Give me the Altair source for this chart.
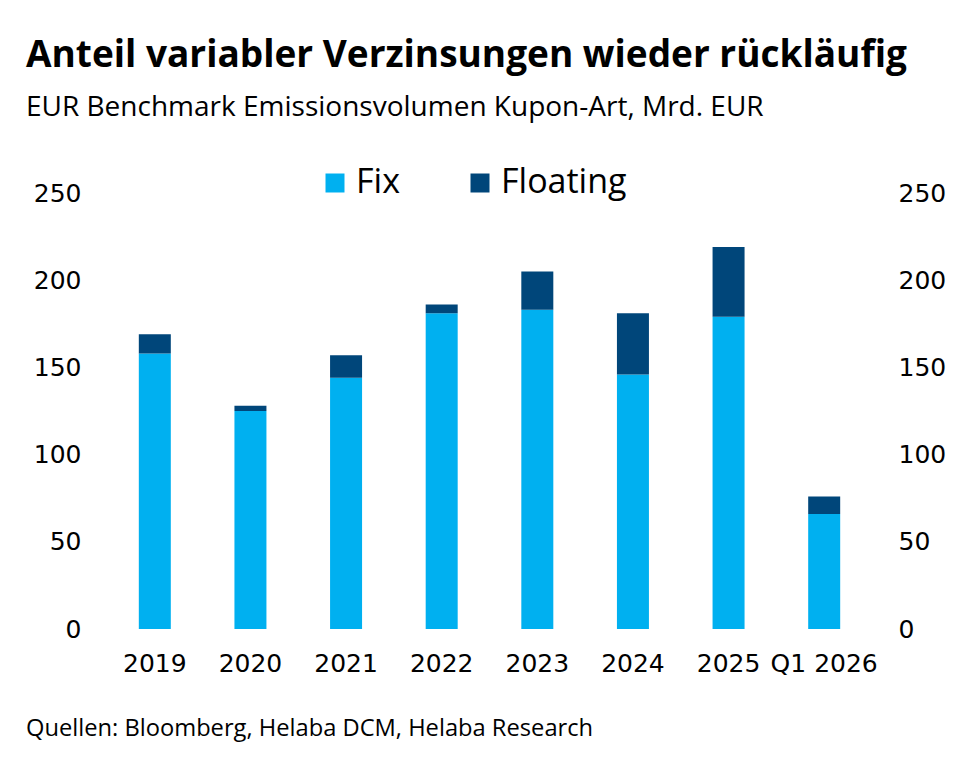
import altair as alt
import pandas as pd

years = ["2019", "2020", "2021", "2022", "2023", "2024", "2025", "Q1 2026"]
fix = [158, 125, 144, 181, 183, 146, 179, 66]
floating = [11, 3, 13, 5, 22, 35, 40, 10]
types = ["Fix", "Floating"]
colors = ["#00b0f0", "#00467a"]
y_ticks = [0, 50, 100, 150, 200, 250]

rows = []
for y, a, b in zip(years, fix, floating):
    rows.append({"year": y, "type": "Fix", "value": a, "ord": 0})
    rows.append({"year": y, "type": "Floating", "value": b, "ord": 1})
df = pd.DataFrame(rows)

TXT = "Open Sans"
AX = "DejaVu Sans"

def x_enc():
    return alt.X("year:N", sort=years, title=None,
                 axis=alt.Axis(labelAngle=0, ticks=False, tickSize=0, domain=False,
                               labelPadding=22, labelFont=AX, labelFontSize=25,
                               labelColor="black", grid=False))

def y_enc(orient):
    return alt.Y("value:Q", stack="zero", title=None,
                 scale=alt.Scale(domain=[0, 250], nice=False),
                 axis=alt.Axis(orient=orient, values=y_ticks, grid=False, ticks=False,
                               tickSize=0, domain=False, labelPadding=26, labelFont=AX,
                               labelFontSize=25, labelColor="black"))

bars = alt.Chart(df).mark_bar(size=32).encode(
    x=x_enc(),
    y=y_enc("left"),
    color=alt.Color("type:N", scale=alt.Scale(domain=types, range=colors),
                    legend=alt.Legend(orient="none", legendX=211, legendY=-27,
                                      direction="horizontal", title=None,
                                      symbolType="square", symbolSize=361,
                                      symbolStrokeWidth=0, labelFont=TXT,
                                      labelFontSize=34, labelColor="black",
                                      labelOffset=4, columnPadding=63, padding=0)),
    order=alt.Order("ord:Q"),
)

right = alt.Chart(df).mark_bar(size=32, opacity=0).encode(
    x=x_enc(),
    y=y_enc("right"),
)

footer = alt.Chart(alt.Data(values=[{"t": "Quellen: Bloomberg, Helaba DCM, Helaba Research"}])).mark_text(
    align="left", baseline="alphabetic", font=TXT, fontSize=23.7, color="black"
).encode(x=alt.value(-81), y=alt.value(543), text="t:N")

chart = alt.layer(bars, right, footer).resolve_scale(y="independent").properties(
    width=765,
    height=436,
    background="white",
    autosize=alt.AutoSizeParams(type="none"),
    padding={"left": 99, "top": 185, "right": 97, "bottom": 136},
    title=alt.Title(
        text="Anteil variabler Verzinsungen wieder rückläufig",
        subtitle="EUR Benchmark Emissionsvolumen Kupon-Art, Mrd. EUR",
        anchor="start", frame="group", dx=-81, offset=43,
        font=TXT, fontSize=37, fontWeight="bold", color="black",
        subtitleFont=TXT, subtitleFontSize=28, subtitleColor="black",
        subtitlePadding=19,
    ),
).configure_view(strokeWidth=0, stroke=None)

chart.save("out.html", embed_options={"renderer": "svg", "actions": False})
